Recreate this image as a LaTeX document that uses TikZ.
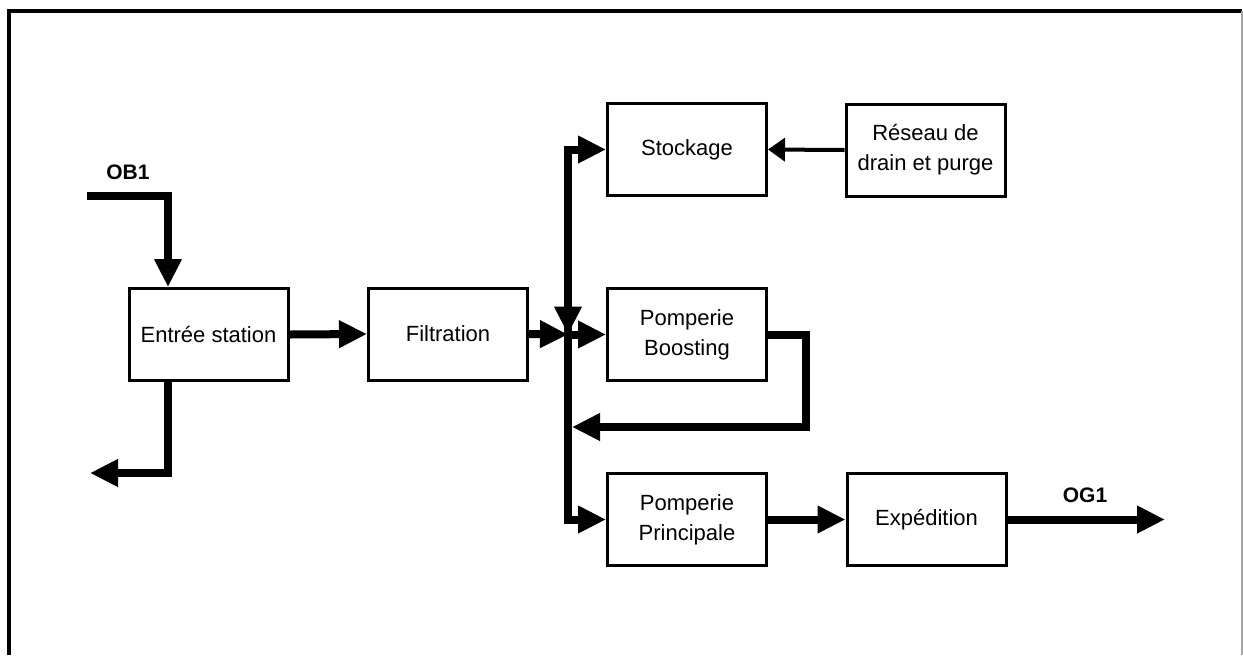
\documentclass[tikz,border=0pt]{standalone}
\usepackage{fontspec}
\setmainfont{Liberation Sans}
\usetikzlibrary{arrows.meta}

\tikzset{
  unit/.style={draw, line width=1.5pt, minimum width=79.5pt, minimum height=46pt,
    inner sep=0pt, align=center, font=\fontsize{11}{15}\selectfont},
  flow/.style={line width=4pt, -{Triangle[length=14pt,width=13pt]}},
  thinflow/.style={line width=2pt, -{Triangle[length=8.5pt,width=11.5pt]}},
  tag/.style={font=\bfseries\fontsize{10.5}{12}\selectfont, inner sep=0pt},
}

\begin{document}
\begin{tikzpicture}[x=0.5pt, y=-0.5pt]
  \useasboundingbox (0,0) rectangle (1243,655);

  % page frame
  \draw[line width=2pt] (9,655) -- (9,10.5) -- (1242,10.5);
  \draw[black!35, line width=0.6pt] (1242,10.5) -- (1242,655);

  % process units
  \node[unit] (entree) at (208.5,334.5) {Entrée station};
  \node[unit] (filtration) at (448,334) {Filtration};
  \node[unit] (stockage) at (687,149.5) {Stockage};
  \node[unit] (reseau) at (925.5,150) {Réseau de\\drain et purge};
  \node[unit] (boosting) at (687,334.5) {Pomperie\\Boosting};
  \node[unit] (principale) at (687,519.5) {Pomperie\\Principale};
  \node[unit] (expedition) at (926.5,519.5) {Expédition};

  % stream labels
  \node[tag] (ob1) at (128,172) {OB1};
  \node[tag] (og1) at (1085,495) {OG1};

  % reference points of the piping
  \coordinate (ob1in) at (87,196);
  \coordinate (ob1turn) at (168,196);
  \coordinate (rejet) at (90,473);
  \coordinate (jn) at (568,334.5);
  \coordinate (loopR) at (806,427);
  \coordinate (og1out) at (1165,519.5);

  % inlet and rejection at the station entrance
  \draw[flow] (ob1in) -- (ob1turn) -- (ob1turn |- entree.north);
  \draw[flow] (ob1turn |- entree.south) -- (ob1turn |- rejet) -- (rejet);

  % main line
  \draw[flow] (entree.east) -- (filtration.west);
  \draw[flow] (filtration.east) -- (jn);

  % distribution header
  \draw[flow] (jn) |- (stockage.west);
  \draw[flow] (stockage.west -| jn) -- (jn);
  \draw[flow] (jn) -- (boosting.west);
  \draw[flow] (jn) |- (principale.west);

  % boosting recirculation
  \draw[flow] (boosting.east) -| (loopR) -- ([xshift=2pt]loopR -| jn);

  % drains to storage
  \draw[thinflow] (reseau.west) -- (stockage.east);

  % shipping
  \draw[flow] (principale.east) -- (expedition.west);
  \draw[flow] (expedition.east) -- (og1out);
\end{tikzpicture}
\end{document}
